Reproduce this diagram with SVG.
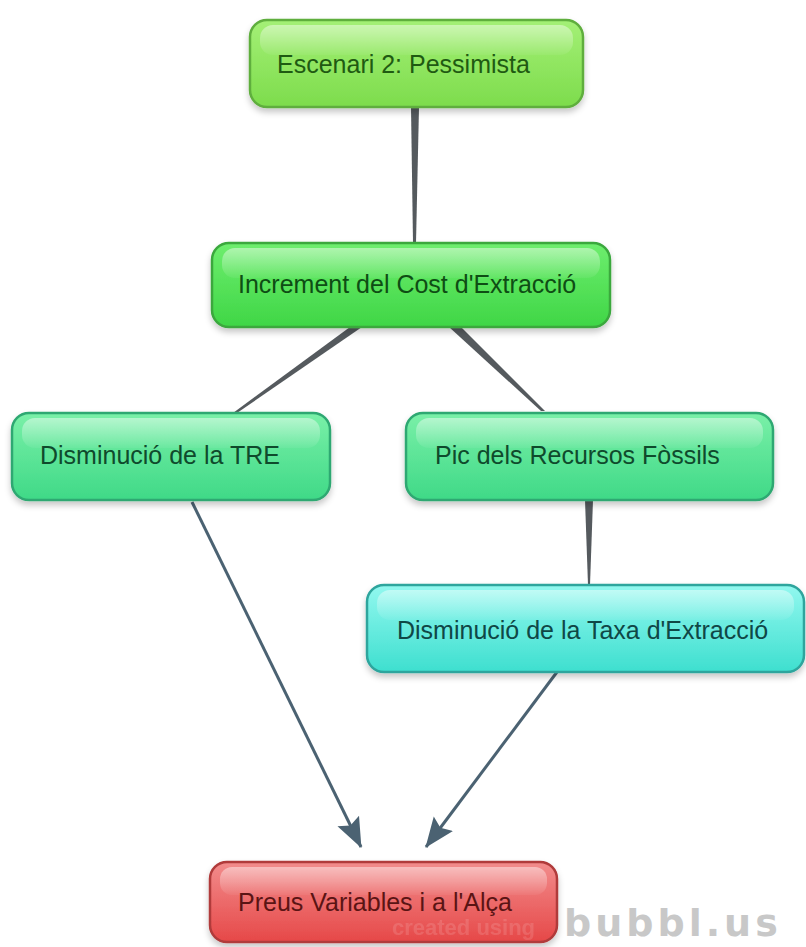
<svg xmlns="http://www.w3.org/2000/svg" width="806" height="947" viewBox="0 0 806 947">
<style>
text { font-family: "Liberation Sans", Arial, sans-serif; font-size: 25px; }
.lbl1 { fill: #1f5a12; }
.lbl2 { fill: #0e4d14; }
.lbl3 { fill: #0f4a2c; }
.lbl5 { fill: #0f4746; }
.lbl6 { fill: #5a1414; }
.box { stroke-width: 2.5; filter: url(#shadow); }
.shine { fill: url(#shineg); }
.link { fill: #555a5e; }
.arrow { stroke: #4b6272; stroke-width: 3; fill: none; }
</style>
<defs>
<filter id="shadow" x="-10%" y="-20%" width="120%" height="150%">
<feDropShadow dx="0" dy="4" stdDeviation="3" flood-color="#000000" flood-opacity="0.22"/>
</filter>
<linearGradient id="shineg" x1="0" y1="0" x2="0" y2="1">
<stop offset="0" stop-color="#ffffff" stop-opacity="0.45"/><stop offset="1" stop-color="#ffffff" stop-opacity="0.05"/>
</linearGradient>
<linearGradient id="g1" x1="0" y1="0" x2="0" y2="1">
<stop offset="0" stop-color="#a4f076"/><stop offset="1" stop-color="#7ddc4c"/>
</linearGradient>
<linearGradient id="g2" x1="0" y1="0" x2="0" y2="1">
<stop offset="0" stop-color="#6eee6e"/><stop offset="1" stop-color="#3fd646"/>
</linearGradient>
<linearGradient id="g3" x1="0" y1="0" x2="0" y2="1">
<stop offset="0" stop-color="#7af0a8"/><stop offset="1" stop-color="#3fd987"/>
</linearGradient>
<linearGradient id="g5" x1="0" y1="0" x2="0" y2="1">
<stop offset="0" stop-color="#92f8ef"/><stop offset="1" stop-color="#3edfcf"/>
</linearGradient>
<linearGradient id="g6" x1="0" y1="0" x2="0" y2="1">
<stop offset="0" stop-color="#f28c8c"/><stop offset="1" stop-color="#e64848"/>
</linearGradient>
<marker id="arr" viewBox="0 0 30 28" refX="29" refY="14" markerWidth="30" markerHeight="28" markerUnits="userSpaceOnUse" orient="auto">
<path d="M0,2 L30,14 L0,26 L5,14 Z" fill="#4b6272"/>
</marker>
</defs>

<g id="connectors">
<polygon class="link" points="411,107 419,107 416,243 413,243"/>
<polygon class="link" points="350,327 362,327 237,413 233,413"/>
<polygon class="link" points="449,327 461,327 545,411 541,411"/>
<polygon class="link" points="585,500 593,500 590,585 588,585"/>
<line class="arrow" x1="192" y1="502" x2="361" y2="847" marker-end="url(#arr)"/>
<line class="arrow" x1="557" y1="672" x2="426" y2="847" marker-end="url(#arr)"/>
</g>

<g id="node1">
<rect class="box" x="250" y="20" width="333" height="87" rx="17" fill="url(#g1)" stroke="#5fae3e"/>
<rect class="shine" x="260" y="25" width="313" height="30" rx="13"/>
<text class="lbl1" x="277" y="73">Escenari 2: Pessimista</text>
</g>

<g id="node2">
<rect class="box" x="212" y="243" width="398" height="84" rx="17" fill="url(#g2)" stroke="#3aa83e"/>
<rect class="shine" x="222" y="248" width="378" height="30" rx="13"/>
<text class="lbl2" x="238" y="293">Increment del Cost d'Extracció</text>
</g>

<g id="node3">
<rect class="box" x="12" y="413" width="318" height="87" rx="17" fill="url(#g3)" stroke="#2fa872"/>
<rect class="shine" x="22" y="418" width="298" height="30" rx="13"/>
<text class="lbl3" x="40" y="464">Disminució de la TRE</text>
</g>

<g id="node4">
<rect class="box" x="406" y="413" width="367" height="87" rx="17" fill="url(#g3)" stroke="#2fa872"/>
<rect class="shine" x="416" y="418" width="347" height="30" rx="13"/>
<text class="lbl3" x="435" y="464">Pic dels Recursos Fòssils</text>
</g>

<g id="node5">
<rect class="box" x="367" y="585" width="437" height="87" rx="17" fill="url(#g5)" stroke="#2da59d"/>
<rect class="shine" x="377" y="590" width="417" height="30" rx="13"/>
<text class="lbl5" x="397" y="639">Disminució de la Taxa d'Extracció</text>
</g>

<g id="node6">
<rect class="box" x="210" y="862" width="347" height="80" rx="17" fill="url(#g6)" stroke="#b03a3a"/>
<rect class="shine" x="220" y="867" width="327" height="28" rx="12"/>
<text class="lbl6" x="238" y="911">Preus Variables i a l'Alça</text>
</g>

<g id="watermark">
<text x="392" y="935" style="font-size:22px;font-weight:bold;fill:#ffffff;opacity:0.12">created using</text>
<text x="564" y="936" style="font-family:'DejaVu Sans',sans-serif;font-size:38px;font-weight:bold;fill:#c8c8c8;letter-spacing:4px">bubbl.us</text>
</g>
</svg>
